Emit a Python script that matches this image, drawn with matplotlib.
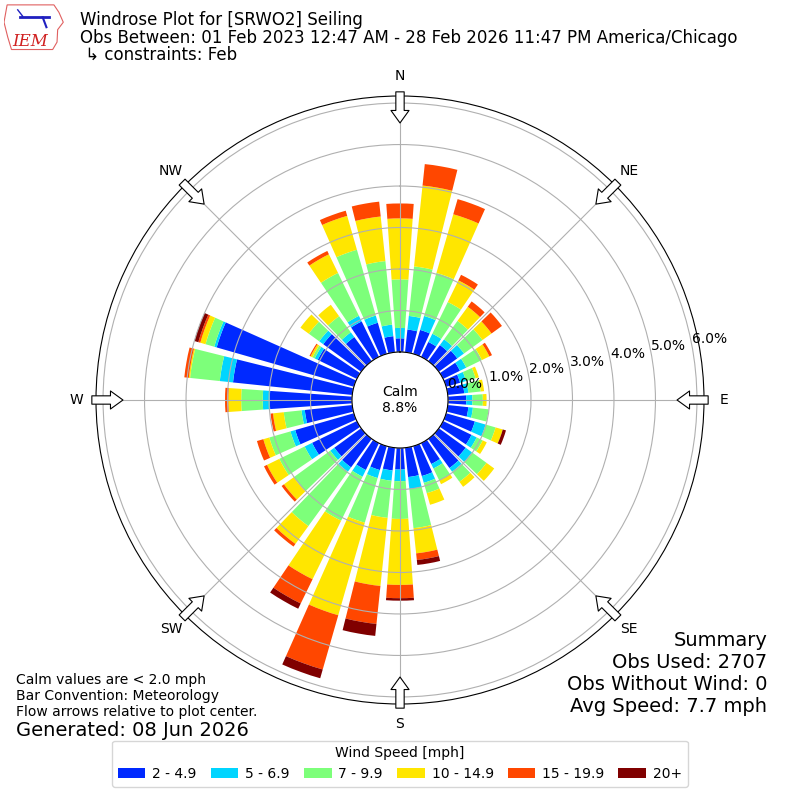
import numpy as np
import matplotlib
matplotlib.use("Agg")
import matplotlib.pyplot as plt
from matplotlib.patches import Rectangle, Polygon

# direction bins (deg, meteorological) and speed classes
directions = np.arange(0, 360, 10)
speed_labels = ["2 - 4.9", "5 - 6.9", "7 - 9.9", "10 - 14.9", "15 - 19.9", "20+"]

# percent of observations per direction bin, one list per speed class
spd_2_5 = [0.33, 0.55, 0.60, 0.40, 0.48, 0.55, 0.45, 0.35, 0.40, 0.44, 0.50, 0.72,
           0.76, 0.80, 0.87, 0.56, 0.75, 0.71, 0.52, 0.55, 0.60, 0.72, 0.85, 0.80,
           1.20, 1.47, 1.15, 1.98, 2.89, 3.44, 1.05, 1.13, 0.72, 0.95, 0.78, 0.39]
spd_5_7 = [0.25, 0.33, 0.35, 0.22, 0.17, 0.20, 0.17, 0.15, 0.10, 0.15, 0.11, 0.27,
           0.14, 0.19, 0.11, 0.12, 0.17, 0.29, 0.28, 0.25, 0.20, 0.18, 0.13, 0.12,
           0.20, 0.12, 0.08, 0.17, 0.32, 0.06, 0.08, 0.12, 0.14, 0.15, 0.18, 0.28]
spd_7_10 = [1.17, 1.20, 1.08, 0.85, 0.55, 0.55, 0.42, 0.24, 0.30, 0.25, 0.38, 0.25,
            0.16, 0.43, 0.30, 0.32, 0.26, 0.95, 0.91, 0.90, 1.12, 1.18, 1.62, 1.09,
            0.68, 0.53, 0.43, 0.52, 0.72, 0.22, 0.06, 0.31, 0.48, 1.15, 1.65, 1.54]
spd_10_15 = [1.47, 1.96, 1.47, 0.58, 0.42, 0.27, 0.20, 0.08, 0.08, 0.09, 0.00, 0.18,
             0.11, 0.23, 0.15, 0.10, 0.29, 0.61, 1.59, 1.65, 2.32, 1.57, 0.53, 0.29,
             0.33, 0.15, 0.26, 0.31, 0.03, 0.13, 0.05, 0.25, 0.34, 0.50, 0.85, 1.08]
spd_15_20 = [0.36, 0.52, 0.38, 0.15, 0.16, 0.31, 0.07, 0.00, 0.00, 0.00, 0.00, 0.00,
             0.00, 0.00, 0.00, 0.00, 0.00, 0.16, 0.32, 0.92, 1.36, 0.65, 0.08, 0.07,
             0.08, 0.16, 0.06, 0.08, 0.11, 0.05, 0.03, 0.00, 0.00, 0.09, 0.13, 0.36]
spd_20p = [0.00, 0.00, 0.00, 0.00, 0.00, 0.00, 0.00, 0.00, 0.00, 0.00, 0.00, 0.08,
           0.00, 0.00, 0.00, 0.00, 0.00, 0.12, 0.06, 0.29, 0.22, 0.14, 0.00, 0.00,
           0.00, 0.00, 0.00, 0.00, 0.00, 0.10, 0.00, 0.00, 0.00, 0.00, 0.00, 0.00]
speed_classes = [spd_2_5, spd_5_7, spd_7_10, spd_10_15, spd_15_20, spd_20p]

calm_pct = 8.8
rings = [0, 1, 2, 3, 4, 5, 6]
compass = ["N", "NE", "E", "SE", "S", "SW", "W", "NW"]

colors = plt.get_cmap("jet")(np.linspace(0, 1, 7)[1:])

fig = plt.figure(figsize=(8, 8), dpi=100)
ax = fig.add_axes([0.12, 0.12, 0.76, 0.76], projection="polar")
ax.set_theta_zero_location("N")
ax.set_theta_direction(-1)

theta = np.radians(directions)
bottom = np.zeros(len(directions))
for vals, c in zip(speed_classes, colors):
    ax.bar(theta, vals, width=np.radians(8), bottom=bottom, color=c, linewidth=0)
    bottom = bottom + np.array(vals)

ax.set_rorigin(-1.157)
ax.set_ylim(0, 6.17)
ax.set_yticks(rings)
ax.set_yticklabels(["%.1f%%" % r for r in rings])
ax.set_rlabel_position(79.5)
ax.set_xticks(np.radians(np.arange(0, 360, 45)))
ax.set_xticklabels([])

# compass labels and inward arrows
for i, lab in enumerate(compass):
    th = np.radians(i * 45)
    ax.text(th, 6.65, lab, ha="center", va="center", fontsize=10)
    ax.annotate("", xy=(th, 5.52), xytext=(th, 6.27), annotation_clip=False,
                arrowprops=dict(arrowstyle="simple,head_length=0.45,head_width=0.65,tail_width=0.3",
                                mutation_scale=20, fc="white", ec="black", lw=0.8,
                                shrinkA=0, shrinkB=0), zorder=5)

ax.text(0.5, 0.5, "Calm\n%.1f%%" % calm_pct, transform=ax.transAxes,
        ha="center", va="center", fontsize=10)

# header
fig.text(0.1, 0.975, "Windrose Plot for [SRWO2] Seiling", va="center", fontsize=12)
fig.text(0.1, 0.9525, "Obs Between: 01 Feb 2023 12:47 AM - 28 Feb 2026 11:47 PM America/Chicago",
         va="center", fontsize=12)
fig.text(0.1, 0.931, " \u21b3 constraints: Feb", va="center", fontsize=12)

# IEM logo (rough)
lax = fig.add_axes([0.005, 0.935, 0.078, 0.062])
lax.axis("off")
lax.set_xlim(0, 1)
lax.set_ylim(0, 1)
lax.add_patch(Polygon([(0.05, 0.95), (0.8, 0.95), (0.88, 0.8), (0.95, 0.6), (0.86, 0.45),
                       (0.85, 0.2), (0.78, 0.05), (0.12, 0.05), (0.06, 0.3), (0.0, 0.6)],
                      closed=True, fill=False, ec="#e06060", lw=0.8))
lax.plot([0.25, 0.72], [0.7, 0.7], color="#2020c0", lw=2)
lax.plot([0.62, 0.68], [0.7, 0.5], color="#2020c0", lw=1.5)
lax.plot([0.22, 0.3], [0.85, 0.72], color="#2020c0", lw=1)
lax.text(0.42, 0.22, "IEM", color="#d02020", fontsize=12, family="serif",
         style="italic", ha="center", va="center")

# footer notes
fig.text(0.02, 0.15, "Calm values are < 2.0 mph", va="center", fontsize=10)
fig.text(0.02, 0.13, "Bar Convention: Meteorology", va="center", fontsize=10)
fig.text(0.02, 0.11, "Flow arrows relative to plot center.", va="center", fontsize=10)
fig.text(0.02, 0.0875, "Generated: 08 Jun 2026", va="center", fontsize=14)

fig.text(0.959, 0.2, "Summary", ha="right", va="center", fontsize=14)
fig.text(0.959, 0.1725, "Obs Used: 2707", ha="right", va="center", fontsize=14)
fig.text(0.959, 0.145, "Obs Without Wind: 0", ha="right", va="center", fontsize=14)
fig.text(0.959, 0.1175, "Avg Speed: 7.7 mph", ha="right", va="center", fontsize=14)

handles = [Rectangle((0, 0), 1, 1, fc=c) for c in colors]
fig.legend(handles, speed_labels, loc="lower center", bbox_to_anchor=(0.5, 0.008),
           ncol=6, title="Wind Speed [mph]", fontsize=10, title_fontsize=10,
           columnspacing=1.0, handletextpad=0.5)

fig.savefig("out.png", dpi=100)
